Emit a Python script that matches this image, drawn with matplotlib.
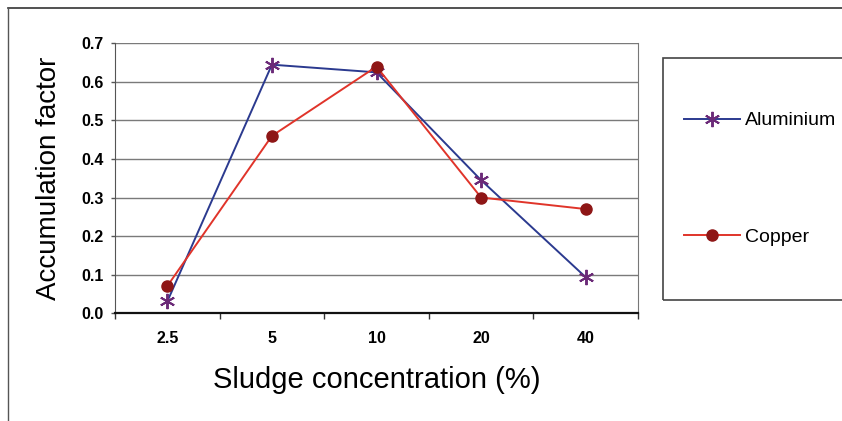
import numpy as np
import matplotlib.pyplot as plt
from matplotlib.patches import Rectangle
from matplotlib.lines import Line2D

plt.rcParams['font.family'] = ['Liberation Sans', 'DejaVu Sans']

concentration = ['2.5', '5', '10', '20', '40']
aluminium = [0.03, 0.645, 0.625, 0.345, 0.093]
copper = [0.07, 0.46, 0.64, 0.30, 0.27]

fig = plt.figure(figsize=(8.42, 4.21), dpi=100)
ax = fig.add_axes([0.1366, 0.2565, 0.6211, 0.6402])

x = np.arange(len(concentration))
al_line, = ax.plot(x, aluminium, color='#2b3a8f', lw=1.4, marker=(6, 2, 0),
                   ms=11, mec='#6b2a78', mew=1.4, zorder=3)
cu_line, = ax.plot(x, copper, color='#e0342a', lw=1.4, marker='o', ms=8,
                   mfc='#8e1616', mec='#8e1616', zorder=4)

ax.set_xlim(-0.5, len(concentration) - 0.5)
ax.set_ylim(0, 0.7)
ax.set_yticks(np.arange(0, 0.71, 0.1))
ax.set_yticklabels([f'{v:.1f}' for v in np.arange(0, 0.71, 0.1)],
                   fontsize=11.5, fontweight='bold')
ax.set_xticks(x)
ax.set_xticklabels(concentration, fontsize=11.5, fontweight='bold')
ax.tick_params(axis='x', length=0, pad=13)
ax.set_xticks(np.arange(-0.5, len(concentration)), minor=True)
ax.tick_params(axis='x', which='minor', length=4, width=1, color='#333333')
ax.tick_params(axis='y', length=3, width=1, color='#555555', pad=5)

ax.yaxis.grid(True, color='#7a7a7a', lw=1)
ax.set_axisbelow(True)
ax.spines['top'].set_visible(False)
ax.spines['left'].set_color('#555555')
ax.spines['right'].set_color('#777777')
ax.spines['bottom'].set_color('#111111')
ax.spines['bottom'].set_linewidth(1.6)

ax.set_ylabel('Accumulation factor', fontsize=20, labelpad=14)
ax.set_xlabel('Sludge concentration (%)', fontsize=21, labelpad=14)

# outer frame lines (top and left)
fig.add_artist(Line2D([8 / 842, 1], [1 - 8 / 421, 1 - 8 / 421],
                      transform=fig.transFigure, color='#333333', lw=1.2))
fig.add_artist(Line2D([8 / 842, 8 / 842], [0, 1 - 8 / 421],
                      transform=fig.transFigure, color='#555555', lw=1))

# legend box, running off the right edge
fig.add_artist(Rectangle((663 / 842, 1 - 300 / 421), 0.3, 242 / 421,
                         transform=fig.transFigure, fill=False,
                         ec='#444444', lw=1.2))
fig.legend([al_line, cu_line], ['Aluminium', 'Copper'], frameon=False,
           loc='upper left', bbox_to_anchor=(676 / 842, 1 - 104 / 421),
           fontsize=14, labelspacing=5.1, handlelength=2.9,
           handletextpad=0.25, borderaxespad=0)

fig.savefig('out.png', dpi=100)
